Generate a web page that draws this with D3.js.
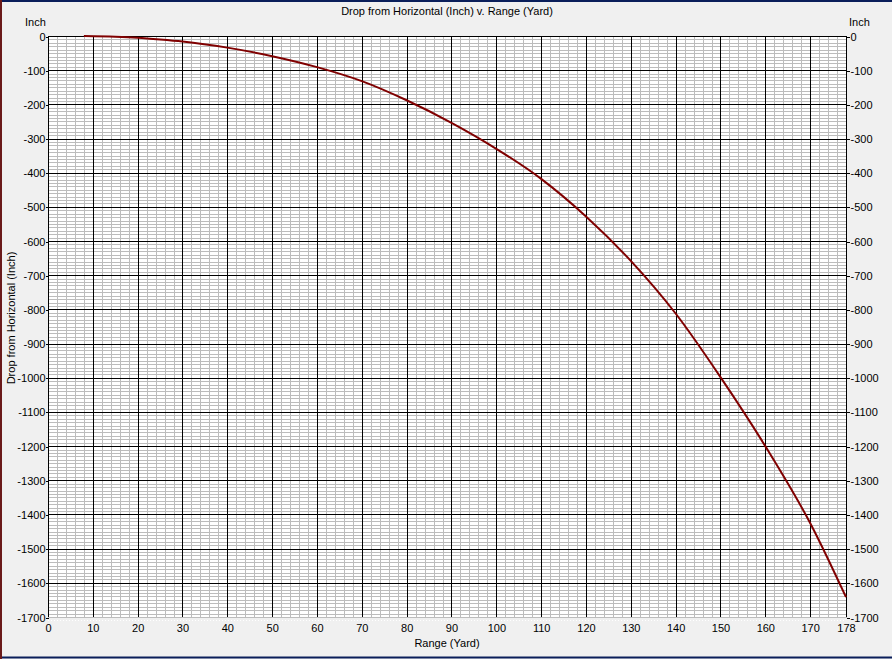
<!DOCTYPE html>
<html><head><meta charset="utf-8">
<script src="https://cdn.jsdelivr.net/npm/d3@7/dist/d3.min.js"></script>
<style>
html,body{margin:0;padding:0;background:#f0f0f0;}
svg{display:block;}
text{font-family:"Liberation Sans",Arial,sans-serif;font-size:11px;fill:#000;}
</style></head><body>
<svg id="c" width="892" height="659"></svg>
<script>
const title = "Drop from Horizontal (Inch) v. Range (Yard)";
const xTitle = "Range (Yard)";
const yTitle = "Drop from Horizontal (Inch)";
const yUnit = "Inch";
const rangeYd = [8, 15, 20, 25, 30, 40, 50, 60, 70, 80, 90, 100, 110, 120, 130, 140, 150, 160, 170, 178];
const dropIn  = [0, -2, -5, -10, -16, -34, -59, -91, -132, -188, -254, -330, -418, -528, -658, -812, -998, -1200, -1425, -1642];
const xTicks = [0,10,20,30,40,50,60,70,80,90,100,110,120,130,140,150,160,170,178];
const yTicks = d3.range(0, -1701, -100);

const svg = d3.select("#c");
const L = 48, R = 846, T = 36, B = 617;
const x = d3.scaleLinear().domain([0,178]).range([L,R]);
const y = d3.scaleLinear().domain([0,-1700]).range([T,B]);

svg.append("rect").attr("x",L).attr("y",T).attr("width",R-L).attr("height",B-T).attr("fill","#fff");

const g = svg.append("g").attr("shape-rendering","crispEdges");
// minor grid
g.selectAll(".mx").data(d3.range(2,178,2).filter(v=>v%10!==0)).enter().append("line")
  .attr("x1",d=>Math.round(x(d))+0.5).attr("x2",d=>Math.round(x(d))+0.5).attr("y1",T).attr("y2",B)
  .attr("stroke","#bcbcbc");
g.selectAll(".my").data(d3.range(-10,-1700,-10).filter(v=>v%100!==0)).enter().append("line")
  .attr("y1",d=>Math.round(y(d))+0.5).attr("y2",d=>Math.round(y(d))+0.5).attr("x1",L).attr("x2",R)
  .attr("stroke","#bcbcbc");
// major grid
g.selectAll(".Mx").data(d3.range(10,178,10)).enter().append("line")
  .attr("x1",d=>Math.round(x(d))+0.5).attr("x2",d=>Math.round(x(d))+0.5).attr("y1",T).attr("y2",B)
  .attr("stroke","#000");
g.selectAll(".My").data(d3.range(-100,-1700,-100)).enter().append("line")
  .attr("y1",d=>Math.round(y(d))+0.5).attr("y2",d=>Math.round(y(d))+0.5).attr("x1",L).attr("x2",R)
  .attr("stroke","#000");
// border
g.append("line").attr("x1",L+0.5).attr("x2",L+0.5).attr("y1",T).attr("y2",B+1).attr("stroke","#000");
g.append("line").attr("x1",R+0.5).attr("x2",R+0.5).attr("y1",T).attr("y2",B+1).attr("stroke","#000");
g.append("line").attr("x1",L).attr("x2",R+1).attr("y1",T+0.5).attr("y2",T+0.5).attr("stroke","#000");
g.append("line").attr("x1",L).attr("x2",R+1).attr("y1",B+0.5).attr("y2",B+0.5).attr("stroke","#bcbcbc");
// dotted line below
g.append("line").attr("x1",L).attr("x2",R).attr("y1",B+3.5).attr("y2",B+3.5)
  .attr("stroke","#fff").attr("stroke-dasharray","1,2");

// axes
const yl = d3.axisLeft(y).tickValues(yTicks).tickSize(3).tickFormat(d=>String(d));
const yr = d3.axisRight(y).tickValues(yTicks).tickSize(3).tickFormat(d=>String(d));
const xb = d3.axisBottom(x).tickValues(xTicks).tickSize(0).tickPadding(7).tickFormat(d=>String(d));
function style(a){
  a.select(".domain").remove();
  a.selectAll("line").attr("stroke","#000").attr("shape-rendering","crispEdges");
  a.selectAll("text").style("font-family","'Liberation Sans',Arial,sans-serif").style("font-size","11px").attr("fill","#000");
}
svg.append("g").attr("transform",`translate(${L+0.5},0.5)`).call(yl).call(style).selectAll("text").attr("x",-3);
svg.append("g").attr("transform",`translate(${R+0.5},0.5)`).call(yr).call(style).selectAll("text").attr("x",4);
svg.append("g").attr("transform",`translate(0,${B})`).call(xb).call(style);

// curve
const pts = rangeYd.map((r,i)=>[r, dropIn[i]]);
svg.append("path").datum(pts)
  .attr("d", d3.line().x(d=>x(d[0])).y(d=>y(d[1])).curve(d3.curveMonotoneX))
  .attr("fill","none").attr("stroke","#800000").attr("stroke-width",2);

// texts
svg.append("text").attr("x",447).attr("y",15).attr("text-anchor","middle").text(title);
svg.append("text").attr("x",447).attr("y",647).attr("text-anchor","middle").text(xTitle);
svg.append("text").attr("x",25).attr("y",26).text(yUnit);
svg.append("text").attr("x",849).attr("y",26).text(yUnit);
svg.append("text").attr("transform","translate(15,318) rotate(-90)").attr("text-anchor","middle").text(yTitle);

// window frame
svg.append("line").attr("x1",0).attr("x2",892).attr("y1",1).attr("y2",1).attr("stroke","#0a1e5a").attr("stroke-width",2);
svg.append("line").attr("x1",0).attr("x2",892).attr("y1",657.5).attr("y2",657.5).attr("stroke","#0a1e5a").attr("stroke-width",2);
svg.append("line").attr("x1",1).attr("x2",1).attr("y1",0).attr("y2",659).attr("stroke","#6a1a1a").attr("stroke-width",2);
</script>
</body></html>
